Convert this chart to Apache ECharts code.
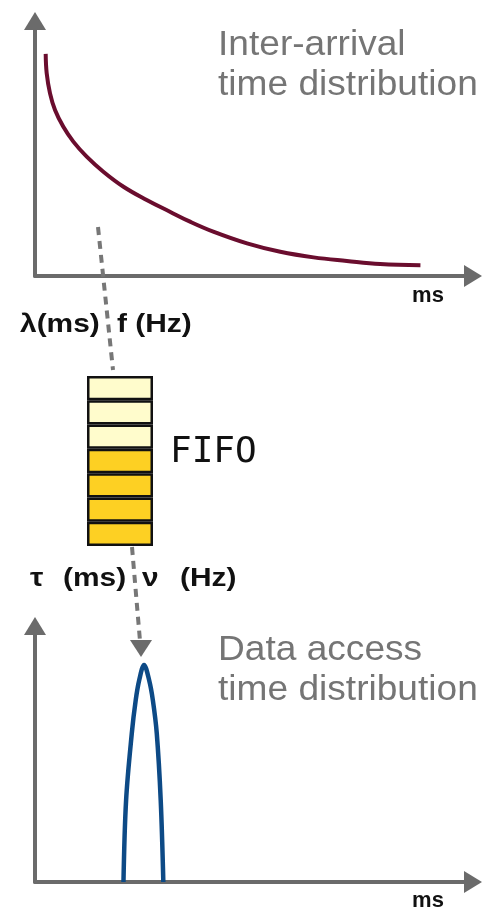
<!DOCTYPE html>
<html>
<head>
<meta charset="utf-8">
<script src="https://cdn.jsdelivr.net/npm/echarts@6/dist/echarts.min.js"></script>
<style>
html,body{margin:0;padding:0;background:#fff;}
#c{width:486px;height:914px;}
</style>
</head>
<body>
<div id="c"></div>
<script>
// Inter-arrival time distribution (arbitrary units: x = time, y = density)
const interArrivalX = [2.44, 2.67, 3.43, 4.57, 6.47, 8.75, 11.8, 15.6, 20.2, 25.5, 30.8, 35.4, 40.7, 48.4, 56.0, 63.6, 71.2, 78.8, 88.0];
const interArrivalY = [87.1, 79.5, 71.6, 65.1, 58.5, 52.7, 46.8, 40.9, 35.0, 29.8, 25.2, 21.3, 17.4, 12.8, 9.5, 7.3, 5.9, 4.7, 4.2];

// Data access time distribution
const accessX = [20.2, 20.8, 22.1, 23.0, 23.8, 24.9, 26.05, 26.9, 27.8, 28.7, 29.3];
const accessY = [0, 32.0, 58.1, 71.1, 78.9, 84.8, 78.9, 71.1, 58.1, 32.0, 0];

// FIFO slots, top to bottom
const fifoSlots = ['s1', 's2', 's3', 's4', 's5', 's6', 's7'];
const fifoFilled = [0, 0, 0, 1, 1, 1, 1];

const topTitle = ['Inter-arrival', 'time distribution'];
const bottomTitle = ['Data access', 'time distribution'];
const axisUnit = 'ms';

const chart = echarts.init(document.getElementById('c'), null, {renderer: 'canvas'});

const AXIS_COLOR = '#6b6b6b';
const axisLine = {
  show: true,
  symbol: ['none', 'triangle'],
  symbolSize: [22, 18],
  lineStyle: {color: AXIS_COLOR, width: 4}
};
function valueAxis(gridIndex, max, extra) {
  return Object.assign({
    type: 'value', gridIndex, min: 0, max,
    axisLine, axisTick: {show: false}, axisLabel: {show: false},
    splitLine: {show: false}
  }, extra || {});
}

const TITLE_FONT = '35px "Liberation Sans", Arial, sans-serif';
const LABEL_FONT = 'bold 26px "Liberation Sans", Arial, sans-serif';
const UNIT_FONT = 'bold 22px "Liberation Sans", Arial, sans-serif';

function txt(text, x, y, font, fill, opts) {
  opts = opts || {};
  return {
    type: 'text', x, y, scaleX: opts.scaleX || 1, z: 100,
    style: {text, x: 0, y: 0, font, fill, align: opts.align || 'left', verticalAlign: 'middle'}
  };
}

const option = {
  animation: false,
  backgroundColor: '#fff',
  grid: [
    {left: 35, right: 13, top: 21, bottom: 638},
    {left: 35, right: 13, top: 626, bottom: 32},
    {left: 87, width: 66, top: 376, height: 170}
  ],
  xAxis: [
    valueAxis(0, 100),
    valueAxis(1, 100),
    {type: 'value', gridIndex: 2, min: 0, max: 1, show: false}
  ],
  yAxis: [
    valueAxis(0, 100),
    valueAxis(1, 100),
    {type: 'category', gridIndex: 2, data: fifoSlots, inverse: true, show: false}
  ],
  series: [
    {
      type: 'line', xAxisIndex: 0, yAxisIndex: 0, smooth: 0.4, symbol: 'none',
      lineStyle: {color: '#6a0d2e', width: 4},
      data: interArrivalX.map((x, i) => [x, interArrivalY[i]])
    },
    {
      type: 'line', xAxisIndex: 1, yAxisIndex: 1, smooth: 0.35, symbol: 'none',
      lineStyle: {color: '#0d4a86', width: 4.5},
      data: accessX.map((x, i) => [x, accessY[i]])
    },
    {
      type: 'bar', xAxisIndex: 2, yAxisIndex: 2, barWidth: '100%',
      data: fifoSlots.map((s, i) => ({
        value: 1,
        itemStyle: {color: fifoFilled[i] ? '#fdd023' : '#fffccc'}
      })),
      itemStyle: {borderColor: '#111', borderWidth: 2.5}
    }
  ],
  graphic: [
    // dashed connectors
    {type: 'line', z: 50, shape: {x1: 98, y1: 227, x2: 113, y2: 370},
      style: {stroke: '#777', lineWidth: 4, lineDash: [8, 6]}},
    {type: 'line', z: 50, shape: {x1: 132, y1: 547, x2: 140, y2: 641},
      style: {stroke: '#777', lineWidth: 4, lineDash: [8, 6]}},
    {type: 'polygon', z: 50, shape: {points: [[130, 640], [152, 640], [141, 657]]},
      style: {fill: '#6b6b6b'}},
    // titles
    txt(topTitle[0], 218, 45, TITLE_FONT, '#757575', {scaleX: 1.06}),
    txt(topTitle[1], 218, 85, TITLE_FONT, '#757575', {scaleX: 1.06}),
    txt(bottomTitle[0], 218, 650, TITLE_FONT, '#757575', {scaleX: 1.06}),
    txt(bottomTitle[1], 218, 690, TITLE_FONT, '#757575', {scaleX: 1.06}),
    // units
    txt(axisUnit, 428, 296, UNIT_FONT, '#111', {align: 'center'}),
    txt(axisUnit, 428, 901, UNIT_FONT, '#111', {align: 'center'}),
    // FIFO labels
    txt('λ(ms)', 20, 325, LABEL_FONT, '#111', {scaleX: 1.15}),
    txt('f (Hz)', 117, 325, LABEL_FONT, '#111', {scaleX: 1.15}),
    txt('τ', 30, 579, LABEL_FONT, '#111', {scaleX: 1.15}),
    txt('(ms)', 63, 579, LABEL_FONT, '#111', {scaleX: 1.15}),
    txt('ν', 142, 579, LABEL_FONT, '#111', {scaleX: 1.15}),
    txt('(Hz)', 180, 579, LABEL_FONT, '#111', {scaleX: 1.15}),
    txt('FIFO', 170, 452.5, '36px "DejaVu Sans Mono", monospace', '#111')
  ]
};
chart.setOption(option);
</script>
</body>
</html>
